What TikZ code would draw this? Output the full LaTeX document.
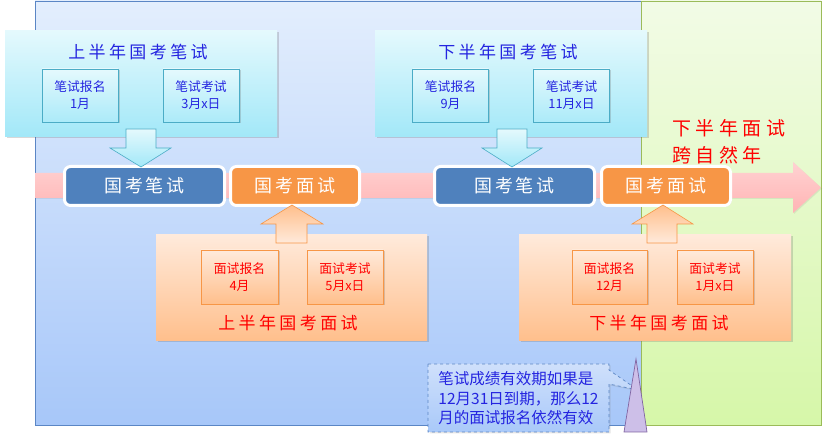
\documentclass[tikz,border=0pt]{standalone}
\usepackage{fontspec}
\setmainfont{Noto Sans CJK SC}
\newfontfamily\titlefont[LetterSpace=20]{Noto Sans CJK SC}
\newfontfamily\notefont[LetterSpace=24]{Noto Sans CJK SC}
\newfontfamily\nodefont[LetterSpace=16]{Noto Sans CJK SC}
\usetikzlibrary{shadows}
\definecolor{bgBlueT}{HTML}{E3EEFD}
\definecolor{bgBlueB}{HTML}{A7C7F9}
\definecolor{bgBlueL}{HTML}{5B86C5}
\definecolor{bgGreenT}{HTML}{F2FBE6}
\definecolor{bgGreenB}{HTML}{D6F7A9}
\definecolor{bgGreenL}{HTML}{9BBB59}
\definecolor{cyT}{HTML}{E4F9FD}
\definecolor{cyB}{HTML}{A2E8F8}
\definecolor{cyL}{HTML}{4BACC6}
\definecolor{orT}{HTML}{FFEADB}
\definecolor{orB}{HTML}{FFBF8C}
\definecolor{orL}{HTML}{F79646}
\definecolor{nodeBlue}{HTML}{4F81BD}
\definecolor{nodeOrange}{HTML}{F79646}
\definecolor{txtBlue}{HTML}{2424E0}
\definecolor{txtRed}{HTML}{FF0000}
\definecolor{pinkT}{HTML}{FFD2D2}
\definecolor{pinkB}{HTML}{FFB4B4}
\definecolor{purF}{HTML}{CDBFE8}
\definecolor{purL}{HTML}{8064A2}
\definecolor{callT}{HTML}{CFE0FB}
\definecolor{callB}{HTML}{A9C9F9}
\begin{document}
\begin{tikzpicture}[x=1pt,y=-1pt,
  softshadow/.style={drop shadow={shadow xshift=1.5pt,shadow yshift=-1.5pt,opacity=0.25,fill=black!60}},
  bigcyan/.style={top color=cyT,bottom color=cyB,draw=none,softshadow,minimum width=272pt,minimum height=106pt,inner sep=0pt},
  bigorange/.style={top color=orT,bottom color=orB,draw=none,softshadow,minimum width=272pt,minimum height=106pt,inner sep=0pt},
  smallcyan/.style={top color=cyT,bottom color=cyB!90,draw=cyL,line width=0.8pt,softshadow,minimum width=76pt,minimum height=53pt,inner sep=0pt,align=center,text=txtBlue,font=\fontsize{12.8}{17}\selectfont},
  smallorange/.style={top color=orT,bottom color=orB,draw=orL,line width=0.8pt,softshadow,minimum width=76pt,minimum height=54pt,inner sep=0pt,align=center,text=txtRed,font=\fontsize{12.8}{17}\selectfont},
  bluetitle/.style={text=txtBlue,font=\titlefont\fontsize{17}{20}\selectfont,inner sep=0pt},
  redtitle/.style={text=txtRed,font=\titlefont\fontsize{17}{20}\selectfont,inner sep=0pt},
  stage/.style={draw=white,line width=3pt,rounded corners=6pt,minimum height=39pt,inner sep=0pt,text=white,font=\nodefont\fontsize{18}{20}\selectfont,drop shadow={shadow xshift=1pt,shadow yshift=-1pt,opacity=0.25}},
  downarrow/.style={top color=cyT,bottom color=cyB,draw=cyL,line width=0.6pt},
  uparrow/.style={top color=orB,bottom color=orT,draw=orL,line width=0.6pt}
]
\useasboundingbox (0,0) rectangle (823,438);
\fill[white] (0,0) rectangle (823,438);

% background panels
\path[top color=bgBlueT,bottom color=bgBlueB,draw=bgBlueL,line width=0.8pt,drop shadow={shadow xshift=1.5pt,shadow yshift=-1.5pt,opacity=0.2}] (35,1) rectangle (641,425);
\path[top color=bgGreenT,bottom color=bgGreenB,draw=bgGreenL,line width=0.8pt] (641,1) rectangle (821,425);

% pink timeline arrow
\path[top color=pinkT,bottom color=pinkB,draw=none,drop shadow={shadow xshift=1pt,shadow yshift=-1pt,opacity=0.15}]
  (35,173) -- (793,173) -- (793,162) -- (821,187.5) -- (793,213) -- (793,198) -- (35,198) -- cycle;

% upper cyan boxes
\node[bigcyan] (wA) at (141,84) {};
\node[bluetitle] (wAt) at (138,52) {上半年国考笔试};
\node[smallcyan] (wA1) at (80,95.5) {笔试报名\\1月};
\node[smallcyan] (wA2) at (201,95.5) {笔试考试\\3月x日};

\node[bigcyan] (wB) at (511,84) {};
\node[bluetitle] (wBt) at (508,52) {下半年国考笔试};
\node[smallcyan] (wB1) at (450.5,95.5) {笔试报名\\9月};
\node[smallcyan] (wB2) at (571.5,95.5) {笔试考试\\11月x日};

% stage nodes on timeline
\node[stage,fill=nodeBlue,minimum width=160pt] (s1) at (144.5,186) {国考笔试};
\node[stage,fill=nodeOrange,minimum width=129pt] (s2) at (295,186) {国考面试};
\node[stage,fill=nodeBlue,minimum width=160pt] (s3) at (514.5,186) {国考笔试};
\node[stage,fill=nodeOrange,minimum width=129pt] (s4) at (666,186) {国考面试};

% down arrows (cyan)
\path[downarrow] (126,129) -- (156,129) -- (156,148) -- (171,148) -- (141,167) -- (110,148) -- (126,148) -- cycle;
\path[downarrow] (497,129) -- (527,129) -- (527,148) -- (542,148) -- (512,167) -- (482,148) -- (497,148) -- cycle;

% lower orange boxes
\node[bigorange,minimum width=271pt] (iA) at (291.5,288) {};
\node[smallorange,minimum width=77pt] (iA1) at (239.5,277) {面试报名\\4月};
\node[smallorange] (iA2) at (345,277) {面试考试\\5月x日};
\node[redtitle] (iAt) at (288,323) {上半年国考面试};

\node[bigorange] (iB) at (655,288) {};
\node[smallorange,minimum width=75pt] (iB1) at (609.5,277) {面试报名\\12月};
\node[smallorange] (iB2) at (715,277) {面试考试\\1月x日};
\node[redtitle] (iBt) at (659,323) {下半年国考面试};

% up arrows (orange)
\path[uparrow] (276,243) -- (307,243) -- (307,224) -- (323,224) -- (292,205) -- (261,224) -- (276,224) -- cycle;
\path[uparrow] (647,243) -- (677,243) -- (677,224) -- (693,224) -- (663,205) -- (632,224) -- (647,224) -- cycle;

% red note
\node[anchor=west,text=txtRed,font=\notefont\fontsize{19}{27}\selectfont,align=left,inner sep=0pt] (note) at (672,141.5) {下半年面试\\跨自然年};

% callout
\path[top color=callT,bottom color=callB,draw=bgBlueL,dashed,line width=0.7pt,drop shadow={shadow xshift=1.5pt,shadow yshift=-1.5pt,opacity=0.2}]
  (428,364) -- (609,364) -- (609,370) -- (638,390) -- (609,384) -- (609,432) -- (428,432) -- cycle;
\node[text=txtBlue,font=\fontsize{15.5}{19.5}\selectfont,align=left,inner sep=0pt] (call) at (518.5,398.5) {笔试成绩有效期如果是\\12月31日到期，那么12\\月的面试报名依然有效};

% purple marker
\path[fill=purF,draw=purL,line width=0.7pt] (636,359) -- (647,432) -- (624,432) -- cycle;
\end{tikzpicture}
\end{document}
